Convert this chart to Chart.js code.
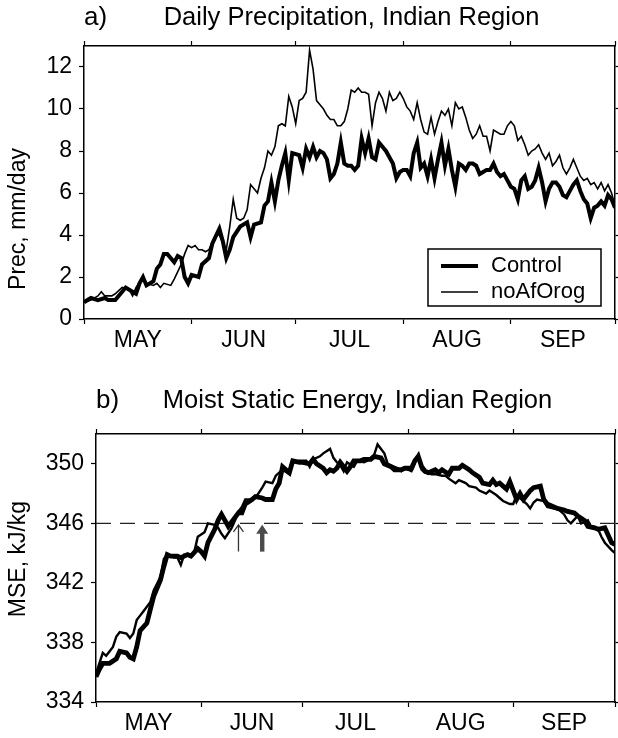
<!DOCTYPE html>
<html>
<head>
<meta charset="utf-8">
<script src="https://cdn.jsdelivr.net/npm/chart.js@4.4.1/dist/chart.umd.min.js"></script>
<style>
  html, body { margin: 0; padding: 0; background: #fff; }
  .panel { position: relative; width: 618px; height: 369px; }
</style>
</head>
<body>
<div class="panel"><canvas id="precChart"></canvas></div>
<div class="panel"><canvas id="mseChart"></canvas></div>
<script>
// month axis: day 0 = 1 May, ticks at month boundaries, labels mid-month
const monthNames = ['MAY', 'JUN', 'JUL', 'AUG', 'SEP'];
const monthStarts = [0, 31, 61, 92, 123, 153];

// a) daily precipitation, mm/day (read off the figure)
const precCtrlDay = [0, 2, 4, 6, 7, 9, 11, 12, 14, 15, 16, 17, 18, 20, 21, 22, 23, 24, 26, 27, 28, 29, 30, 31, 33, 34, 36, 37, 39, 40,
  41, 42, 43, 45, 47, 48, 49, 51, 52, 53, 54, 55, 56, 57, 58, 59, 60, 62, 63, 64, 65, 66, 67, 68, 69, 70, 71, 72, 73, 74,
  75, 76, 77, 78, 79, 80, 81, 82, 83, 84, 85, 86, 87, 88, 89, 90, 91, 92, 93, 94, 95, 96, 97, 98, 99, 100, 101, 102, 103, 104,
  105, 106, 107, 108, 109, 110, 111, 112, 113, 114, 115, 116, 117, 118, 119, 120, 121, 122, 123, 124, 125, 126, 127, 128, 129, 130, 131, 132, 133, 134,
  135, 136, 137, 138, 139, 140, 141, 142, 143, 144, 145, 146, 147, 148, 149, 150, 151, 152, 153];
const precCtrl = [0.8, 1.0, 0.9, 1.0, 0.9, 0.9, 1.3, 1.5, 1.3, 1.2, 1.7, 2.0, 1.6, 1.8, 2.4, 2.6, 3.1, 3.1, 2.7, 3.0, 2.9, 2.0, 1.7, 2.1, 2.0, 2.6, 2.9, 3.6, 4.3, 3.7,
  2.9, 3.3, 3.9, 4.4, 4.6, 3.9, 4.5, 4.6, 5.4, 5.6, 6.5, 5.6, 6.6, 7.3, 7.9, 6.6, 7.9, 7.8, 7.2, 8.1, 7.7, 8.2, 7.7, 8.0, 7.9, 7.6, 6.7, 6.9, 7.4, 8.4,
  7.4, 7.3, 7.3, 7.1, 7.3, 8.6, 7.9, 8.6, 7.7, 7.6, 8.4, 8.2, 8.0, 7.7, 7.4, 6.7, 7.0, 7.1, 7.1, 6.8, 7.9, 8.4, 7.2, 7.4, 6.8, 7.6, 6.7, 7.6, 8.4, 7.3,
  8.1, 7.1, 6.3, 7.4, 7.3, 7.1, 7.4, 7.4, 7.3, 6.9, 7.0, 7.1, 7.1, 7.4, 7.0, 6.8, 6.9, 6.6, 6.3, 6.2, 5.7, 6.6, 6.8, 6.2, 6.3, 6.6, 7.2, 6.5, 5.6, 6.2,
  6.5, 6.5, 6.3, 5.9, 5.8, 6.1, 6.4, 6.6, 6.1, 5.7, 5.5, 4.8, 5.3, 5.4, 5.6, 5.4, 5.9, 5.7, 5.3];

const precNoAfDay = [0, 2, 4, 5, 6, 8, 9, 11, 13, 14, 15, 17, 18, 20, 21, 22, 23, 25, 26, 28, 29, 30, 31, 32, 33, 34, 35, 36, 37, 38,
  39, 40, 41, 42, 43, 44, 45, 46, 47, 48, 49, 50, 51, 52, 53, 54, 55, 56, 57, 58, 59, 60, 61, 62, 63, 64, 65, 66, 67, 68,
  69, 70, 71, 72, 73, 74, 75, 76, 77, 78, 79, 80, 81, 82, 83, 84, 85, 86, 87, 88, 89, 90, 91, 92, 93, 94, 95, 96, 97, 98,
  99, 100, 101, 102, 103, 104, 105, 106, 107, 108, 109, 110, 111, 112, 113, 114, 115, 116, 117, 118, 120, 121, 122, 123, 124, 125, 126, 127, 128, 129,
  130, 131, 132, 133, 134, 135, 136, 137, 138, 139, 140, 141, 142, 143, 144, 145, 146, 147, 148, 149, 150, 151, 152, 153];
const precNoAf = [0.8, 0.9, 1.1, 1.3, 1.1, 1.1, 1.2, 1.5, 1.4, 1.1, 1.5, 2.0, 1.7, 1.6, 1.7, 1.5, 1.7, 1.6, 1.9, 2.6, 3.1, 3.5, 3.4, 3.5, 3.3, 3.3, 3.2, 3.3, 3.7, 4.0,
  4.0, 3.6, 3.3, 4.4, 5.7, 4.8, 4.7, 4.8, 5.2, 6.4, 6.2, 6.0, 6.7, 7.2, 8.0, 7.8, 8.2, 9.2, 9.3, 9.2, 10.6, 10.1, 9.3, 10.4, 10.5, 10.8, 12.8, 11.9, 10.4, 10.2,
  10.0, 9.7, 9.5, 9.5, 9.2, 9.2, 9.4, 10.0, 10.9, 10.8, 11.0, 10.8, 10.8, 10.7, 9.2, 10.3, 10.8, 10.5, 9.9, 10.8, 10.4, 10.5, 10.8, 10.5, 10.1, 9.9, 9.5, 10.3, 9.5, 8.9,
  8.8, 9.6, 8.8, 9.4, 9.9, 9.7, 10.0, 9.2, 10.3, 10.0, 10.1, 9.6, 9.0, 8.6, 8.8, 9.2, 8.7, 8.7, 8.0, 9.0, 8.8, 8.8, 9.2, 9.4, 9.2, 8.5, 8.7, 8.3, 7.8, 8.0,
  8.1, 8.3, 7.9, 7.6, 7.9, 7.3, 7.5, 7.8, 7.2, 6.9, 7.2, 7.6, 7.2, 6.8, 6.6, 6.7, 6.4, 6.5, 6.2, 6.5, 6.1, 6.4, 6.0, 5.4];

// b) moist static energy, kJ/kg
const mseCtrlDay = [0, 1, 2, 4, 6, 7, 9, 10, 11, 12, 13, 15, 16, 17, 19, 20, 21, 22, 24, 25, 27, 28, 30, 31, 32, 33, 35, 36, 37, 38,
  39, 40, 42, 43, 44, 46, 47, 49, 50, 52, 53, 54, 55, 57, 58, 60, 61, 63, 64, 65, 67, 68, 69, 70, 71, 72, 73, 74, 75, 76,
  78, 79, 81, 82, 84, 85, 87, 88, 90, 91, 93, 94, 95, 96, 97, 98, 100, 101, 102, 104, 105, 107, 108, 110, 111, 113, 114, 116, 117, 118,
  119, 121, 122, 123, 124, 125, 126, 128, 129, 131, 132, 133, 135, 136, 138, 139, 141, 142, 144, 145, 147, 148, 150, 151, 152, 153];
const mseCtrl = [335.7, 336.2, 336.6, 336.6, 336.9, 337.4, 337.3, 337.0, 336.9, 337.7, 338.8, 339.3, 340.2, 341.1, 342.2, 343.1, 343.9, 343.8, 343.8, 343.7, 343.9, 343.8, 344.3, 344.1, 343.8, 344.7, 345.6, 346.2, 346.6, 346.2,
  345.8, 346.1, 346.7, 346.7, 347.3, 347.6, 347.8, 347.7, 347.6, 347.6, 348.3, 348.7, 349.8, 349.4, 350.2, 350.1, 350.1, 350.0, 350.3, 350.0, 349.7, 349.4, 349.6, 349.5, 349.7, 350.1, 349.8, 349.5, 349.8, 350.2,
  350.2, 350.3, 350.3, 350.5, 350.4, 350.0, 349.8, 349.6, 349.6, 349.7, 349.7, 350.2, 350.5, 349.8, 349.5, 349.4, 349.6, 349.4, 349.6, 349.3, 349.7, 349.7, 349.9, 349.6, 349.4, 349.1, 348.7, 348.6, 348.9, 348.6,
  348.7, 348.3, 348.8, 348.2, 347.6, 348.0, 347.6, 348.2, 348.4, 348.5, 347.6, 347.3, 347.1, 347.0, 346.9, 346.8, 346.7, 346.5, 346.2, 345.8, 345.7, 345.6, 345.7, 345.2, 344.7, 344.6];

const mseNoAfDay = [0, 2, 3, 5, 6, 7, 9, 10, 11, 12, 13, 14, 16, 17, 19, 20, 21, 23, 24, 25, 26, 28, 29, 30, 32, 33, 35, 36, 37, 38,
  40, 41, 42, 43, 44, 46, 47, 49, 50, 52, 53, 54, 55, 57, 58, 60, 62, 63, 64, 66, 67, 69, 70, 71, 72, 73, 74, 76, 77, 79,
  80, 82, 83, 85, 86, 88, 89, 90, 91, 92, 93, 95, 96, 97, 99, 100, 102, 103, 104, 106, 107, 109, 110, 112, 113, 115, 116, 118, 119, 120,
  122, 123, 124, 126, 127, 128, 129, 130, 132, 133, 135, 136, 138, 139, 140, 142, 143, 145, 146, 148, 149, 150, 152, 153];
const mseNoAf = [335.9, 337.3, 337.1, 337.7, 338.4, 338.7, 338.6, 338.3, 338.6, 339.5, 339.8, 340.1, 340.7, 341.5, 342.4, 343.6, 343.9, 343.7, 343.7, 343.2, 343.9, 343.8, 344.1, 345.1, 345.4, 346.0, 345.9, 345.7, 345.3, 345.0,
  345.7, 346.2, 346.8, 347.1, 347.6, 347.6, 347.7, 348.4, 348.8, 348.7, 349.2, 349.4, 349.6, 349.3, 350.1, 350.2, 350.2, 349.8, 350.3, 350.5, 350.7, 351.0, 350.4, 350.1, 349.9, 349.5, 350.1, 349.8, 350.2, 350.1,
  350.2, 350.6, 351.3, 350.7, 350.0, 349.8, 349.7, 349.5, 349.7, 349.6, 349.5, 350.6, 349.6, 349.4, 349.3, 349.3, 349.2, 349.2, 349.0, 348.7, 348.9, 348.7, 348.5, 348.4, 348.2, 348.0, 348.2, 347.9, 347.7, 347.5,
  347.3, 347.3, 347.9, 347.5, 347.3, 347.0, 347.4, 347.6, 347.5, 347.1, 347.0, 347.0, 346.6, 346.2, 346.0, 346.5, 346.0, 346.2, 345.7, 345.6, 345.1, 344.7, 344.2, 344.0];

const mseRef = 346;            // dashed reference level
const arrowDays = [42, 49];    // onset markers: noAfOrog (thin), Control (thick)
const arrowFrom = 344.1;
const arrowTo = 345.9;

const FONT = "'Liberation Sans', Arial, Helvetica, sans-serif";

function pts(days, vals) {
  return days.map((d, i) => ({ x: d, y: vals[i] }));
}

function isMonthStart(v) {
  return monthStarts.includes(v);
}

function monthTicks(scale) {
  const t = [];
  for (let i = 0; i < monthStarts.length; i++) {
    t.push({ value: monthStarts[i] });
    if (i < monthNames.length) t.push({ value: (monthStarts[i] + monthStarts[i + 1]) / 2 });
  }
  scale.ticks = t;
}

function monthLabel(value) {
  for (let i = 0; i < monthNames.length; i++) {
    if ((monthStarts[i] + monthStarts[i + 1]) / 2 === value) return monthNames[i];
  }
  return '';
}

function fixedTicks(list) {
  return scale => { scale.ticks = list.map(v => ({ value: v })); };
}

const tickMark = ctx => (ctx.tick && isMonthStart(ctx.tick.value)) ? '#000' : 'rgba(0,0,0,0)';

function xScales(bottomHeight) {
  return {
    x: {
      type: 'linear', min: 0, max: 153, position: 'bottom',
      afterBuildTicks: monthTicks,
      afterFit: s => { s.height = bottomHeight; },
      border: { color: '#000', width: 1.5 },
      grid: { drawOnChartArea: false, tickLength: 5, tickWidth: 1.2, tickColor: tickMark },
      ticks: { autoSkip: false, maxRotation: 0, padding: 3, color: '#000',
        font: { family: FONT, size: 23 }, callback: v => monthLabel(v) }
    },
    xt: {
      type: 'linear', min: 0, max: 153, position: 'top',
      afterBuildTicks: monthTicks,
      afterFit: s => { s.height = 6; },
      border: { color: '#000', width: 1.5 },
      grid: { drawOnChartArea: false, tickLength: 5, tickWidth: 1.2, tickColor: tickMark },
      ticks: { display: false }
    }
  };
}

function yScales(min, max, ticks, leftWidth, rightWidth) {
  return {
    y: {
      min: min, max: max, position: 'left',
      afterBuildTicks: fixedTicks(ticks),
      afterFit: s => { s.width = leftWidth; },
      border: { color: '#000', width: 1.5 },
      grid: { drawOnChartArea: false, tickLength: 5, tickWidth: 1.2, tickColor: '#000' },
      ticks: { padding: 7, color: '#000', font: { family: FONT, size: 23 } }
    },
    yr: {
      min: min, max: max, position: 'right',
      afterBuildTicks: fixedTicks(ticks),
      afterFit: s => { s.width = rightWidth; },
      border: { color: '#000', width: 1.5 },
      grid: { drawOnChartArea: false, tickLength: 5, tickWidth: 1.2, tickColor: '#000' },
      ticks: { display: false }
    }
  };
}

// panel label "a)" at the left edge, title centred over the plot, rotated y title
function panelText(label, text, titleY, yTitle, yTitleMid) {
  return {
    id: 'panelText',
    afterDraw(chart) {
      const { ctx, chartArea } = chart;
      ctx.save();
      ctx.fillStyle = '#000';
      ctx.font = '26px ' + FONT;
      ctx.textBaseline = 'middle';
      ctx.textAlign = 'left';
      ctx.fillText(label, chartArea.left, titleY);
      ctx.font = '25.5px ' + FONT;
      ctx.textAlign = 'center';
      ctx.fillText(text, (chartArea.left + chartArea.right) / 2 + 2, titleY);
      ctx.font = '23px ' + FONT;
      ctx.translate(19, yTitleMid);
      ctx.rotate(-Math.PI / 2);
      ctx.fillText(yTitle, 0, 0);
      ctx.restore();
    }
  };
}

const boxLegend = {
  id: 'boxLegend',
  afterDatasetsDraw(chart) {
    const { ctx, chartArea } = chart;
    const w = 173, h = 57;
    const x0 = chartArea.right - 14 - w, y0 = chartArea.bottom - 13 - h;
    ctx.save();
    ctx.fillStyle = '#fff';
    ctx.fillRect(x0, y0, w, h);
    ctx.strokeStyle = '#000';
    ctx.lineWidth = 1.5;
    ctx.strokeRect(x0, y0, w, h);
    ctx.font = '22px ' + FONT;
    ctx.textBaseline = 'middle';
    ctx.fillStyle = '#000';
    chart.data.datasets.forEach((ds, i) => {
      const yy = y0 + 17 + i * 26;
      ctx.lineWidth = ds.borderWidth;
      ctx.beginPath();
      ctx.moveTo(x0 + 13, yy);
      ctx.lineTo(x0 + 50, yy);
      ctx.stroke();
      ctx.fillText(ds.label, x0 + 63, yy);
    });
    ctx.restore();
  }
};

const onsetArrows = {
  id: 'onsetArrows',
  afterDatasetsDraw(chart) {
    const { ctx, scales } = chart;
    const yb = scales.y.getPixelForValue(arrowFrom);
    const yt = scales.y.getPixelForValue(arrowTo);
    ctx.save();
    // thin arrow
    let x = scales.x.getPixelForValue(arrowDays[0]);
    ctx.strokeStyle = '#333';
    ctx.lineWidth = 1.3;
    ctx.beginPath();
    ctx.moveTo(x, yb); ctx.lineTo(x, yt);
    ctx.moveTo(x - 5, yt + 7); ctx.lineTo(x, yt); ctx.lineTo(x + 5, yt + 7);
    ctx.stroke();
    // thick arrow
    x = scales.x.getPixelForValue(arrowDays[1]);
    ctx.fillStyle = '#4a4a4a';
    ctx.fillRect(x - 2.2, yt + 7, 4.4, yb - yt - 7);
    ctx.beginPath();
    ctx.moveTo(x - 6, yt + 9); ctx.lineTo(x, yt); ctx.lineTo(x + 6, yt + 9);
    ctx.closePath();
    ctx.fill();
    ctx.restore();
  }
};

new Chart(document.getElementById('precChart'), {
  type: 'line',
  data: {
    datasets: [
      { label: 'Control', data: pts(precCtrlDay, precCtrl), borderColor: '#000', borderWidth: 4, pointRadius: 0, tension: 0 },
      { label: 'noAfOrog', data: pts(precNoAfDay, precNoAf), borderColor: '#000', borderWidth: 1.6, pointRadius: 0, tension: 0 }
    ]
  },
  options: {
    responsive: true, maintainAspectRatio: false, animation: false,
    layout: { padding: { top: 40, left: 0, right: 0, bottom: 0 } },
    plugins: { legend: { display: false }, tooltip: { enabled: false } },
    scales: Object.assign(xScales(50), yScales(0, 13, [0, 2, 4, 6, 8, 10, 12], 84, 2))
  },
  plugins: [panelText('a)', 'Daily Precipitation, Indian Region', 18, 'Prec, mm/day', 219), boxLegend]
});

new Chart(document.getElementById('mseChart'), {
  type: 'line',
  data: {
    datasets: [
      { label: 'Control', data: pts(mseCtrlDay, mseCtrl), borderColor: '#000', borderWidth: 4.8, pointRadius: 0, tension: 0 },
      { label: 'noAfOrog', data: pts(mseNoAfDay, mseNoAf), borderColor: '#000', borderWidth: 2.4, pointRadius: 0, tension: 0 },
      { label: 'ref', data: [{ x: 0, y: mseRef }, { x: 153, y: mseRef }], borderColor: '#222', borderWidth: 1.2,
        borderDash: [15, 9], pointRadius: 0 }
    ]
  },
  options: {
    responsive: true, maintainAspectRatio: false, animation: false,
    layout: { padding: { top: 59, left: 0, right: 0, bottom: 0 } },
    plugins: { legend: { display: false }, tooltip: { enabled: false } },
    scales: Object.assign(xScales(36), yScales(334, 352, [334, 338, 342, 346, 350], 96, 3))
  },
  plugins: [panelText('b)', 'Moist Static Energy, Indian Region', 32, 'MSE, kJ/kg', 190), onsetArrows]
});
</script>
</body>
</html>
